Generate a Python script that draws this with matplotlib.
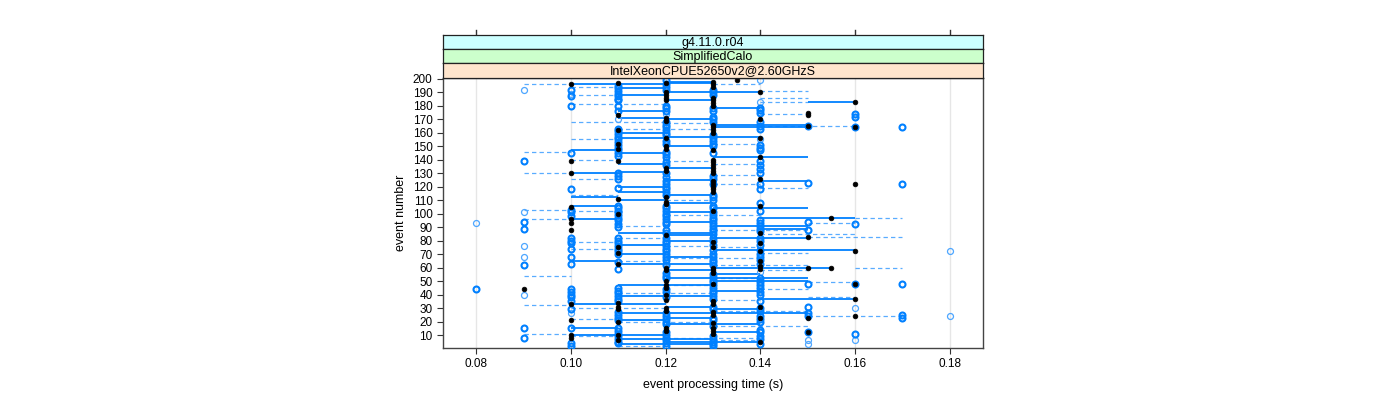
import matplotlib
matplotlib.use("Agg")
import matplotlib.pyplot as plt
from matplotlib.transforms import blended_transform_factory

plt.rcParams["font.family"] = ["Liberation Sans", "DejaVu Sans"]

# strip labels
strip_labels = ["g4.11.0.r04", "SimplifiedCalo", "IntelXeonCPUE52650v2@2.60GHzS"]
strip_colors = ["#ccffff", "#ccffcc", "#ffe5cc"]

x_ticks = [0.08, 0.10, 0.12, 0.14, 0.16, 0.18]
y_ticks = [10, 20, 30, 40, 50, 60, 70, 80, 90, 100, 110, 120, 130, 140, 150, 160, 170, 180, 190, 200]

# points per time column: event numbers
blue_pts = {
    0.08: [44],
    0.09: [139, 94, 89, 62, 15, 8],
    0.10: [192, 187, 180, 145, 118, 103, 101, 98, 82, 80, 78, 74, 68, 63, 44, 42, 40, 38, 35, 29, 15, 4, 2],
    0.11: [195, 193, 191, 189, 187, 185, 184, 180, 176, 163, 161, 159, 157, 155, 153, 151, 149, 147, 145, 143,
           130, 128, 126, 119, 106, 104, 102, 101, 99, 97, 95, 92, 90, 82, 80, 78, 76, 74, 72, 70, 64, 59,
           45, 43, 41, 39, 37, 35, 27, 25, 23, 21, 15, 13, 11, 9, 7, 5, 4],
    0.12: [199, 196, 194, 192, 180, 178, 176, 168, 166, 164, 162, 160, 158, 154, 152, 146, 144, 142, 138, 136,
           130, 127, 124, 122, 120, 118, 116, 114, 106, 104, 102, 100, 98, 96, 94, 92, 88, 86, 82, 80, 78, 76,
           74, 72, 70, 68, 66, 62, 56, 54, 52, 44, 42, 38, 26, 24, 22, 20, 18, 12, 10, 8, 6, 4, 2],
    0.13: [192, 190, 188, 178, 176, 172, 170, 168, 158, 156, 154, 152, 150, 145, 128, 126, 122, 114, 112, 110,
           106, 104, 101, 99, 97, 95, 93, 91, 89, 87, 85, 82, 80, 77, 73, 70, 68, 66, 64, 62, 55, 53, 51, 49,
           47, 45, 43, 41, 39, 37, 31, 29, 23, 21, 17, 9, 7, 5, 3, 2],
    0.14: [178, 177, 175, 168, 165, 163, 151, 149, 147, 139, 136, 133, 130, 122, 118, 108, 102, 95, 93, 91, 89,
           87, 82, 80, 77, 73, 70, 68, 66, 63, 52, 49, 47, 45, 42, 40, 35, 30, 28, 24, 22, 20, 14, 12, 9, 7, 3],
    0.15: [165, 123, 94, 88, 48, 31, 26, 24, 12],
    0.16: [174, 172, 164, 92, 48, 11],
    0.17: [164, 122, 48, 25, 23],
}
light_pts = {
    0.08: [93],
    0.09: [192, 101, 76, 68, 40],
    0.10: [189, 26],
    0.11: [188, 170, 94],
    0.12: [174, 140, 64],
    0.14: [199, 183, 155, 57],
    0.15: [6, 3],
    0.16: [30, 6],
    0.18: [72, 24],
}
black_pts = {
    0.09: [44],
    0.10: [196, 139, 130, 105, 96, 93, 88, 33, 21, 10, 8],
    0.11: [197, 173, 162, 152, 148, 139, 111, 100, 75, 71, 63, 34, 31, 29, 20, 10, 6],
    0.12: [197, 190, 188, 186, 184, 171, 169, 156, 150, 148, 134, 132, 112, 109, 107, 84, 60, 58, 50, 47,
           45, 40, 36, 30, 28, 15, 13],
    0.13: [198, 196, 194, 186, 184, 182, 180, 166, 164, 162, 160, 147, 140, 138, 136, 134, 132, 130, 124,
           122, 120, 118, 116, 102, 79, 75, 60, 58, 56, 48, 35, 33, 27, 25, 19, 15, 13, 11],
    0.135: [199],
    0.14: [190, 170, 156, 142, 126, 106, 86, 78, 72, 65, 61, 59, 31, 23, 5],
    0.15: [175, 173, 165, 83, 60, 23, 12],
    0.155: [97, 60],
    0.16: [183, 164, 122, 72, 48, 37, 24],
}

# solid segments: event, start time, end time
solid_ev = [196, 197, 198, 193, 190, 188, 184, 183, 178, 176, 171, 170, 166, 164, 160, 157, 156, 150, 147, 145,
            142, 137, 134, 130, 131, 125, 124, 120, 116, 114, 112, 110, 108, 106, 104, 101, 97, 96, 94, 91,
            89, 86, 84, 82, 80, 77, 73, 70, 68, 65, 63, 60, 58, 55, 52, 50, 47, 43, 39, 37,
            33, 31, 29, 26, 23, 21, 18, 15, 12, 10, 7, 5, 3]
solid_t0 = [0.10, 0.12, 0.12, 0.11, 0.12, 0.11, 0.12, 0.15, 0.13, 0.11, 0.11, 0.12, 0.13, 0.13, 0.11, 0.12, 0.11, 0.12, 0.10, 0.11,
            0.13, 0.11, 0.12, 0.10, 0.11, 0.12, 0.14, 0.11, 0.11, 0.12, 0.10, 0.11, 0.12, 0.10, 0.13, 0.12, 0.14, 0.10, 0.12, 0.13,
            0.14, 0.11, 0.12, 0.13, 0.12, 0.11, 0.13, 0.11, 0.12, 0.10, 0.11, 0.13, 0.12, 0.13, 0.12, 0.13, 0.11, 0.13, 0.11, 0.14,
            0.10, 0.12, 0.13, 0.11, 0.12, 0.11, 0.12, 0.10, 0.13, 0.10, 0.11, 0.12, 0.11]
solid_t1 = [0.12, 0.13, 0.13, 0.12, 0.14, 0.12, 0.13, 0.16, 0.14, 0.12, 0.12, 0.13, 0.15, 0.15, 0.12, 0.14, 0.12, 0.13, 0.11, 0.12,
            0.15, 0.12, 0.13, 0.11, 0.12, 0.13, 0.15, 0.12, 0.12, 0.13, 0.11, 0.12, 0.13, 0.11, 0.15, 0.13, 0.16, 0.11, 0.13, 0.15,
            0.15, 0.13, 0.13, 0.15, 0.13, 0.12, 0.16, 0.12, 0.13, 0.11, 0.13, 0.155, 0.13, 0.14, 0.15, 0.15, 0.13, 0.14, 0.13, 0.16,
            0.12, 0.13, 0.14, 0.15, 0.13, 0.12, 0.14, 0.11, 0.14, 0.12, 0.13, 0.14, 0.13]

# dashed segments: event, start time, end time
dash_ev = [196, 194, 196, 191, 188, 186, 183, 181, 174, 168, 165, 167, 163, 155, 152, 146, 140, 139, 137, 130,
           129, 126, 122, 119, 114, 110, 102, 103, 99, 97, 96, 93, 91, 88, 85, 83, 82, 79, 76, 75,
           74, 71, 67, 65, 62, 60, 58, 54, 52, 49, 47, 44, 41, 38, 36, 32, 30, 28, 24, 22,
           20, 17, 11, 9, 8, 6, 2]
dash_t0 = [0.09, 0.10, 0.13, 0.14, 0.10, 0.14, 0.14, 0.10, 0.14, 0.10, 0.14, 0.12, 0.11, 0.10, 0.13, 0.09, 0.10, 0.12, 0.13, 0.09,
           0.13, 0.10, 0.13, 0.14, 0.10, 0.12, 0.10, 0.09, 0.12, 0.16, 0.09, 0.15, 0.11, 0.13, 0.14, 0.15, 0.11, 0.10, 0.12, 0.13,
           0.10, 0.14, 0.12, 0.11, 0.13, 0.16, 0.14, 0.09, 0.13, 0.15, 0.12, 0.14, 0.11, 0.15, 0.13, 0.09, 0.10, 0.13, 0.15, 0.10,
           0.11, 0.13, 0.09, 0.10, 0.12, 0.13, 0.11]
dash_t1 = [0.10, 0.11, 0.14, 0.15, 0.11, 0.15, 0.15, 0.12, 0.15, 0.12, 0.16, 0.13, 0.13, 0.11, 0.14, 0.10, 0.11, 0.13, 0.14, 0.10,
           0.14, 0.11, 0.14, 0.15, 0.11, 0.13, 0.11, 0.10, 0.14, 0.17, 0.10, 0.16, 0.12, 0.15, 0.16, 0.17, 0.12, 0.11, 0.13, 0.14,
           0.11, 0.15, 0.14, 0.12, 0.15, 0.17, 0.15, 0.10, 0.14, 0.16, 0.13, 0.15, 0.13, 0.16, 0.14, 0.10, 0.12, 0.15, 0.17, 0.11,
           0.13, 0.15, 0.10, 0.11, 0.14, 0.14, 0.12]

blue = "#0080ff"

fig = plt.figure(figsize=(14, 4), dpi=100)
ax = fig.add_axes([443 / 1400, 1 - 348 / 400, 540 / 1400, 270 / 400])

for xt in x_ticks:
    ax.axvline(xt, color="#e6e6e6", linewidth=1, zorder=0)

# dashed lines under solid ones
ax.hlines(dash_ev, dash_t0, dash_t1, colors=blue, linestyles=(0, (3.5, 2.5)), linewidth=0.9, alpha=0.65, zorder=1)
ax.hlines(solid_ev, solid_t0, solid_t1, colors=blue, linewidth=1.3, zorder=2)

for t, evs in light_pts.items():
    ax.plot([t] * len(evs), evs, "o", ms=4.3, mfc="none", mec="#4da6ff", mew=0.9, zorder=3)
for t, evs in blue_pts.items():
    ax.plot([t] * len(evs), evs, "o", ms=4.3, mfc="none", mec=blue, mew=1.5, zorder=4)
for t, evs in black_pts.items():
    ax.plot([t] * len(evs), evs, "o", ms=3.4, mfc="black", mec="black", mew=0.5, zorder=5)

ax.set_xlim(0.073, 0.187)
ax.set_ylim(0.4, 200.6)
ax.set_xticks(x_ticks)
ax.set_xticklabels([f"{v:.2f}" for v in x_ticks])
ax.set_yticks(y_ticks)
ax.tick_params(axis="both", labelsize=8.5, length=4, color="#333333", direction="out")
for sp in ax.spines.values():
    sp.set_color("#444444")
    sp.set_linewidth(1)
ax.set_xlabel("event processing time (s)", fontsize=9, labelpad=6)
ax.set_ylabel("event number", fontsize=9, labelpad=4)

# strips on top of the panel
strip_bounds = [(35, 49), (49, 63), (63, 78)]
for (top, bot), lab, col in zip(strip_bounds, strip_labels, strip_colors):
    sax = fig.add_axes([443 / 1400, 1 - bot / 400, 540 / 1400, (bot - top) / 400])
    sax.set_facecolor(col)
    sax.set_xticks([])
    sax.set_yticks([])
    for sp in sax.spines.values():
        sp.set_color("#222222")
        sp.set_linewidth(0.9)
    sax.text(0.5, 0.45, lab, ha="center", va="center", fontsize=9, transform=sax.transAxes)

# top ticks above the strips
trans = blended_transform_factory(ax.transData, fig.transFigure)
for xt in x_ticks:
    ax.plot([xt, xt], [1 - 35 / 400, 1 - 30 / 400], color="#333333", linewidth=1,
            transform=trans, clip_on=False)

fig.savefig("out.png", dpi=100)
